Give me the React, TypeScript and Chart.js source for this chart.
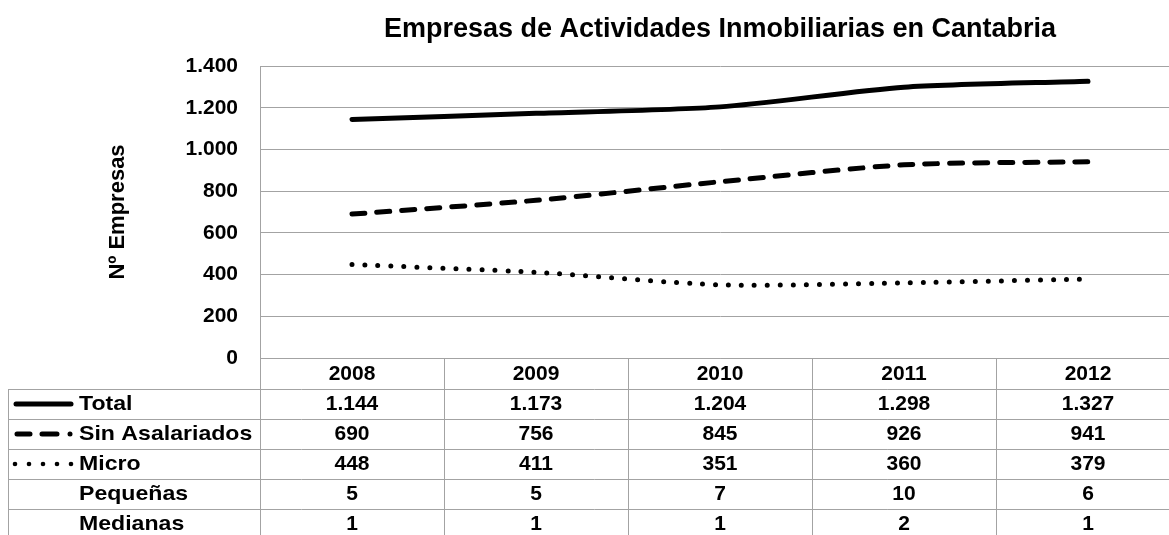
import { useEffect, useRef } from 'react';
import { Chart, registerables } from 'chart.js';

Chart.register(...registerables);

const years = ['2008', '2009', '2010', '2011', '2012'];
const total = [1144, 1173, 1204, 1298, 1327];
const sinAsalariados = [690, 756, 845, 926, 941];
const micro = [448, 411, 351, 360, 379];
const pequenas = [5, 5, 7, 10, 6];
const medianas = [1, 1, 1, 2, 1];
const yTickLabels = ['0', '200', '400', '600', '800', '1.000', '1.200', '1.400'];
const seriesNames = ['Total', 'Sin Asalariados', 'Micro', 'Pequeñas', 'Medianas'];
const sampleStyles = ['solid', 'dash', 'dot', 'none', 'none'];

const FAMILY = "Arial, 'Liberation Sans', sans-serif";
const GRID = '#a3a3a3';

const fmt = (v: number) => String(v).replace(/\B(?=(\d{3})+(?!\d))/g, '.');

const tablePlugin = {
  id: 'dataTable',
  afterDraw(chart: any) {
    const { ctx, chartArea } = chart;
    const x = chart.scales.x;
    const top = chartArea.bottom;
    const headerH = 31;
    const rowH = 30;
    const leftX = 8.5;
    const W = chart.width;
    const H = chart.height;
    const datasets = chart.data.datasets;
    const n = datasets.length;
    const count = chart.data.labels.length;

    ctx.save();
    ctx.strokeStyle = GRID;
    ctx.lineWidth = 1;
    ctx.beginPath();
    for (let r = 0; r <= n; r++) {
      const y = Math.round(top + headerH + r * rowH) + 0.5;
      ctx.moveTo(leftX, y);
      ctx.lineTo(W, y);
    }
    ctx.moveTo(leftX, top + headerH);
    ctx.lineTo(leftX, H);
    const ax = Math.round(chartArea.left) + 0.5;
    ctx.moveTo(ax, top);
    ctx.lineTo(ax, H);
    for (let i = 0; i < count - 1; i++) {
      const bx = Math.round((x.getPixelForValue(i) + x.getPixelForValue(i + 1)) / 2) + 0.5;
      ctx.moveTo(bx, top);
      ctx.lineTo(bx, H);
    }
    ctx.stroke();

    ctx.fillStyle = '#000';
    ctx.font = `bold 21px ${FAMILY}`;
    ctx.textBaseline = 'middle';
    for (let r = 0; r < n; r++) {
      const cy = top + headerH + r * rowH + rowH / 2;
      ctx.textAlign = 'center';
      const data = datasets[r].data as number[];
      for (let i = 0; i < count; i++) {
        ctx.fillText(fmt(data[i]), x.getPixelForValue(i), cy);
      }
      ctx.save();
      ctx.textAlign = 'left';
      ctx.translate(79, cy);
      ctx.scale(1.1, 1);
      ctx.fillText(seriesNames[r], 0, 0);
      ctx.restore();

      const style = sampleStyles[r];
      ctx.strokeStyle = '#000';
      ctx.fillStyle = '#000';
      ctx.lineCap = 'round';
      ctx.lineWidth = 5;
      if (style === 'solid') {
        ctx.beginPath();
        ctx.moveTo(16, cy);
        ctx.lineTo(71, cy);
        ctx.stroke();
      } else if (style === 'dash') {
        ctx.beginPath();
        ctx.moveTo(17, cy);
        ctx.lineTo(30, cy);
        ctx.moveTo(42, cy);
        ctx.lineTo(57, cy);
        ctx.stroke();
        ctx.beginPath();
        ctx.arc(70, cy, 2.5, 0, Math.PI * 2);
        ctx.fill();
      } else if (style === 'dot') {
        for (let k = 0; k < 5; k++) {
          ctx.beginPath();
          ctx.arc(15 + k * 14, cy, 2.3, 0, Math.PI * 2);
          ctx.fill();
        }
      }
    }
    ctx.restore();
  },
};

export default function App() {
  const ref = useRef<HTMLCanvasElement>(null);

  useEffect(() => {
    const canvas = ref.current;
    if (!canvas) return;
    const tickFont = { family: FAMILY, size: 21, weight: 'bold' as const };
    const chart = new Chart(canvas, {
      type: 'line',
      data: {
        labels: years,
        datasets: [
          { label: seriesNames[0], data: total, borderColor: '#000', backgroundColor: '#000', borderWidth: 5, borderCapStyle: 'round', pointRadius: 0, tension: 0.25 },
          { label: seriesNames[1], data: sinAsalariados, borderColor: '#000', backgroundColor: '#000', borderWidth: 5, borderDash: [13, 12], borderCapStyle: 'round', pointRadius: 0, tension: 0.25 },
          { label: seriesNames[2], data: micro, borderColor: '#000', backgroundColor: '#000', borderWidth: 5, borderDash: [0, 13], borderCapStyle: 'round', pointRadius: 0, tension: 0.25 },
          { label: seriesNames[3], data: pequenas, showLine: false, pointRadius: 0 },
          { label: seriesNames[4], data: medianas, showLine: false, pointRadius: 0 },
        ],
      },
      options: {
        responsive: false,
        animation: false,
        layout: { padding: 0 },
        plugins: {
          legend: { display: false },
          tooltip: { enabled: false },
          title: {
            display: true,
            text: 'Empresas de Actividades Inmobiliarias en Cantabria',
            fullSize: false,
            color: '#000',
            font: { family: FAMILY, size: 27, weight: 'bold' },
            padding: { top: 13, bottom: 20.6 },
          },
        },
        scales: {
          x: {
            offset: true,
            grid: { display: false, drawTicks: false },
            border: { display: true, color: GRID, width: 1 },
            ticks: { color: '#000', font: tickFont, padding: 4, maxRotation: 0, autoSkip: false },
            afterFit: (s: any) => {
              s.height = 177;
            },
          },
          y: {
            min: 0,
            max: 1400,
            grid: { color: GRID, drawTicks: false },
            border: { display: true, color: GRID, width: 1 },
            ticks: {
              stepSize: 200,
              color: '#000',
              font: tickFont,
              padding: 22,
              callback: (_v: any, i: number) => yTickLabels[i],
            },
            title: {
              display: true,
              text: 'Nº Empresas',
              color: '#000',
              font: { family: FAMILY, size: 22, weight: 'bold' },
              padding: { top: 105, bottom: 0 },
            },
            afterFit: (s: any) => {
              s.width = 260;
            },
          },
        },
      },
      plugins: [tablePlugin],
    });
    return () => chart.destroy();
  }, []);

  return (
    <div style={{ position: 'absolute', left: 0, top: 0, width: 1169, height: 535, overflow: 'hidden', background: '#fff' }}>
      <canvas ref={ref} width={1180} height={535} style={{ display: 'block' }} />
    </div>
  );
}
